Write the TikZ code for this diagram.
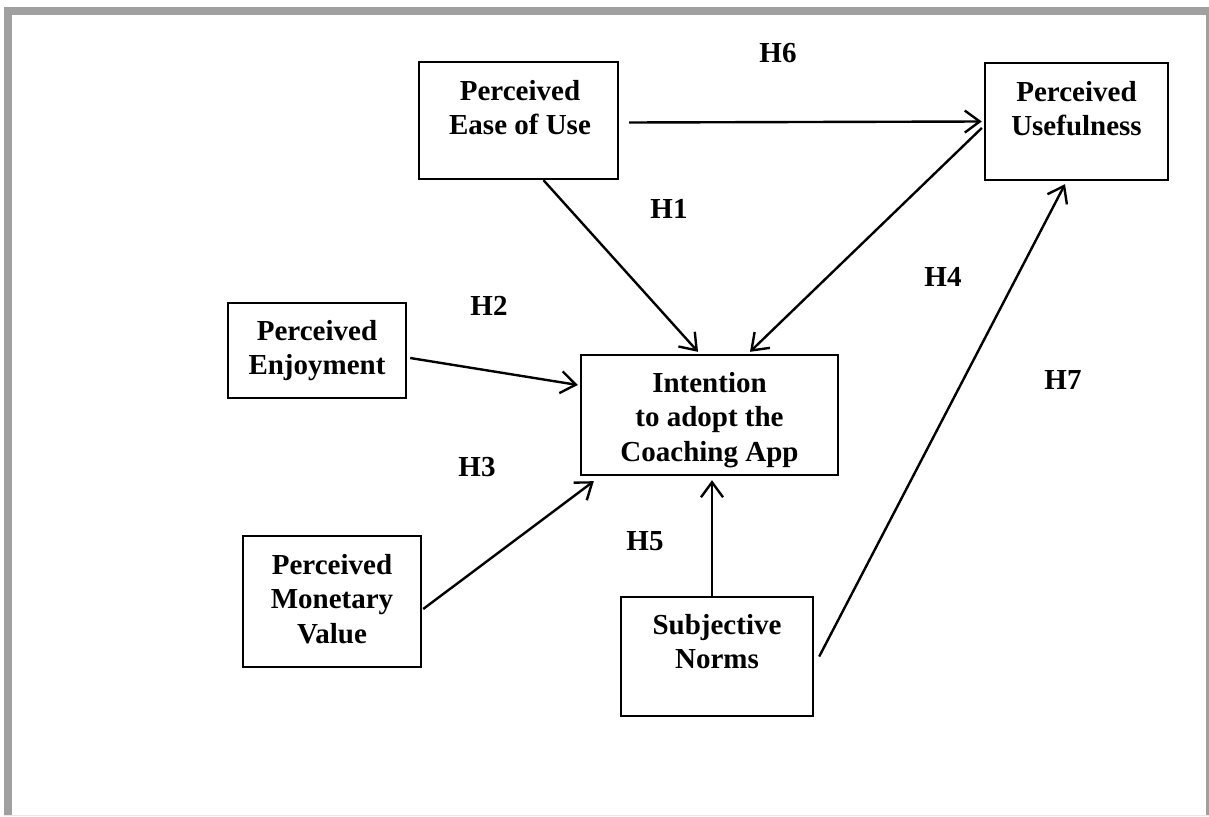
\documentclass[tikz,border=0pt]{standalone}
\usepackage{fontspec}
\setmainfont{Liberation Serif}
\usetikzlibrary{arrows.meta}
\definecolor{framegray}{HTML}{A0A0A0}
\definecolor{lightline}{HTML}{E8E8E8}
\tikzset{
  box/.style={draw=black, line width=2.4pt, inner sep=0pt, fill=white},
  txt/.style={font=\fontsize{29}{34.5}\selectfont\bfseries, align=center, anchor=north, inner sep=0pt},
  hlab/.style={font=\fontsize{29}{34}\selectfont\bfseries, inner sep=0pt},
  arr/.style={line width=2.4pt, -{Straight Barb[length=15pt,width=22pt,line width=2.4pt]}}
}
\begin{document}
\begin{tikzpicture}[x=1pt,y=-1pt]
\useasboundingbox (0,0) rectangle (1209,816);
% frame
\fill[framegray] (4,7) rectangle (1209,816);
\fill[white] (12,15) rectangle (1206,816);
\draw[lightline, line width=1pt] (4,815.5) -- (1209,815.5);

% boxes
\node[box, minimum width=199pt, minimum height=117pt] (peu) at (518.5,120.5) {};
\node[box, minimum width=183pt, minimum height=117pt] (pu) at (1076.5,121.5) {};
\node[box, minimum width=178pt, minimum height=95pt] (pe) at (317,350.5) {};
\node[box, minimum width=257pt, minimum height=120pt] (int) at (709.5,415) {};
\node[box, minimum width=178pt, minimum height=131pt] (pmv) at (332,601.5) {};
\node[box, minimum width=192pt, minimum height=119pt] (sn) at (717,656.5) {};

% texts
\node[txt] (peut) at (520,80) {Perceived\\Ease of Use};
\node[txt] (put) at (1076.5,81) {Perceived\\Usefulness};
\node[txt] (pet) at (317,320) {Perceived\\Enjoyment};
\node[txt] (intt) at (709.5,372) {Intention\\to adopt the\\Coaching App};
\node[txt] (pmvt) at (332,554) {Perceived\\Monetary\\Value};
\node[txt] (snt) at (717,614) {Subjective\\Norms};

% connectors
\draw[arr] ([xshift=10pt,yshift=-2pt]peu.east) -- ([xshift=-2pt]pu.west);
\draw[arr] ([xshift=25pt]peu.south) -- ([xshift=-11.5pt,yshift=2pt]int.north);
\draw[arr] ([xshift=-2pt,yshift=-6.5pt]pu.west) -- ([xshift=40.5pt,yshift=2pt]int.north);
\draw[arr] ([xshift=3pt,yshift=-7.5pt]pe.east) -- ([xshift=-2pt,yshift=30pt]int.west);
\draw[arr] ([xshift=1pt,yshift=-7.5pt]pmv.east) -- ([xshift=14pt,yshift=-5pt]int.south west);
\draw[arr] ([xshift=-5pt]sn.north) -- ([xshift=2.5pt,yshift=-4pt]int.south);
\draw[arr] ([xshift=5pt]sn.east) -- ([xshift=-11.5pt,yshift=-3pt]pu.south);

% hypothesis labels
\node[hlab] (h6) at (778,53) {H6};
\node[hlab] (h1) at (669,209) {H1};
\node[hlab] (h4) at (943,277) {H4};
\node[hlab] (h2) at (489,306) {H2};
\node[hlab] (h7) at (1063,380) {H7};
\node[hlab] (h3) at (477,467) {H3};
\node[hlab] (h5) at (645,541) {H5};
\end{tikzpicture}
\end{document}
